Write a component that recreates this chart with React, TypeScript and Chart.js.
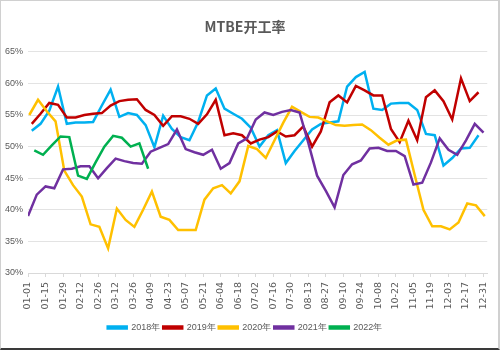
import React, { useEffect, useRef } from 'react';
import { Chart, registerables } from 'chart.js';

Chart.register(...registerables);

const chartTitle = 'MTBE开工率';
const seriesNames = ['2018年', '2019年', '2020年', '2021年', '2022年'];
const seriesColors = ['#00B0F0', '#C00000', '#FFC000', '#7030A0', '#00B050'];
// date (MM-DD) of the first weekly reading of each year
const firstReportDates = ['01-04', '01-04', '01-02', '01-01', '01-06'];
const tickLabels = [
  '01-01', '01-15', '01-29', '02-12', '02-26', '03-12', '03-26', '04-09', '04-23',
  '05-07', '05-21', '06-04', '06-18', '07-02', '07-16', '07-30', '08-13', '08-27',
  '09-10', '09-24', '10-08', '10-22', '11-05', '11-19', '12-03', '12-17', '12-31',
];

const rate2018 = [
  52.5, 53.6, 55.7, 59.5, 53.6, 53.8, 53.8, 53.9, 56.5, 59.0,
  54.7, 55.3, 55.0, 53.4, 49.9, 54.9, 52.8, 51.5, 51.0, 53.9,
  58.1, 59.2, 56.0, 55.2, 54.4, 53.0, 50.0, 51.8, 52.6, 47.4,
  49.3, 51.0, 52.7, 53.6, 53.8, 54.0, 59.5, 61.0, 61.8, 56.0,
  55.8, 56.8, 56.9, 56.9, 55.8, 52.0, 51.8, 47.0, 48.2, 49.7,
  49.8, 51.8,
];
const rate2019 = [
  53.6, 55.2, 56.9, 56.6, 54.6, 54.6, 55.0, 55.2, 55.3, 56.5,
  57.2, 57.4, 57.5, 55.8, 55.0, 53.3, 54.8, 54.8, 54.4, 53.6,
  55.1, 57.4, 51.8, 52.1, 51.8, 50.5, 51.1, 51.5, 52.4, 51.6,
  51.8, 53.2, 50.0, 52.4, 57.0, 58.1, 57.0, 59.6, 58.9, 58.1,
  58.1, 52.8, 50.7, 54.1, 51.0, 57.8, 58.9, 57.2, 54.3, 60.8,
  57.2, 58.6,
];
const rate2020 = [
  55.0, 57.4, 55.6, 54.0, 46.2, 43.9, 42.1, 37.7, 37.3, 33.9,
  40.2, 38.4, 37.3, 40.0, 42.9, 38.9, 38.4, 36.8, 36.8, 36.8,
  41.6, 43.4, 43.9, 42.6, 44.5, 50.1, 49.6, 48.2, 51.0, 53.8,
  56.3, 55.5, 54.7, 54.6, 54.0, 53.4, 53.3, 53.4, 53.5, 52.6,
  51.4, 50.3, 51.0, 51.1, 45.5, 40.0, 37.4, 37.4, 36.9, 38.0,
  41.0, 40.7, 39.0,
];
const rate2021 = [
  39.0, 42.4, 43.7, 43.4, 46.4, 46.5, 46.9, 46.9, 45.0, 46.6,
  48.1, 47.7, 47.4, 47.3, 49.2, 49.8, 50.4, 52.7, 49.6, 49.1,
  48.7, 49.5, 46.5, 47.4, 50.5, 51.3, 54.3, 55.4, 55.0, 55.5,
  55.8, 55.4, 50.6, 45.4, 43.0, 40.4, 45.5, 47.2, 47.8, 49.7,
  49.8, 49.3, 49.3, 48.5, 44.0, 44.3, 47.5, 51.3, 49.5, 48.7,
  51.0, 53.6, 52.2,
];
const rate2022 = [
  49.4, 48.7, 50.2, 51.6, 51.5, 45.4, 44.9, 47.5, 50.0, 51.7,
  51.4, 50.0, 50.5, 46.5,
];
const seriesValues = [rate2018, rate2019, rate2020, rate2021, rate2022];

const monthDays = [31, 28, 31, 30, 31, 30, 31, 31, 30, 31, 30, 31];
function dayOfYear(mmdd: string): number {
  const [m, d] = mmdd.split('-').map(Number);
  let n = 0;
  for (let i = 0; i < m - 1; i++) n += monthDays[i];
  return n + d - 1;
}
const tickDays = tickLabels.map(dayOfYear);

export default function App() {
  const canvasRef = useRef<HTMLCanvasElement | null>(null);

  useEffect(() => {
    document.body.style.margin = '0';
    const canvas = canvasRef.current;
    if (!canvas) return;
    Chart.defaults.font.family = "'Liberation Sans Narrow', 'Liberation Sans', sans-serif";

    const datasets = seriesValues.map((vals, i) => {
      const start = dayOfYear(firstReportDates[i]);
      return {
        label: seriesNames[i],
        data: vals.map((v, k) => ({ x: start + 7 * k, y: v })),
        borderColor: seriesColors[i],
        backgroundColor: seriesColors[i],
        borderWidth: 2.5,
        pointRadius: 0,
        pointHoverRadius: 0,
        tension: 0,
        fill: false,
        order: seriesValues.length - 1 - i,
      };
    });

    const chart = new Chart(canvas, {
      type: 'line',
      data: { datasets },
      options: {
        animation: false,
        responsive: false,
        maintainAspectRatio: false,
        layout: { padding: { left: 0, right: 10, top: 0, bottom: 8 } },
        plugins: {
          title: {
            display: true,
            text: chartTitle,
            color: '#595959',
            font: { size: 14, weight: 'bold', family: "'Noto Sans CJK SC', sans-serif" },
            padding: { top: 18, bottom: 17 },
          },
          legend: {
            position: 'bottom',
            labels: {
              boxWidth: 19,
              boxHeight: 2,
              padding: 3,
              color: '#595959',
              font: { size: 9 },
              sort: (a: any, b: any) => a.datasetIndex - b.datasetIndex,
            },
          },
          tooltip: { enabled: false },
        },
        scales: {
          x: {
            type: 'linear',
            min: 0,
            max: 367,
            afterBuildTicks: (axis: any) => {
              axis.ticks = tickDays.map((value) => ({ value }));
            },
            afterFit: (axis: any) => {
              axis.height = 47;
            },
            ticks: {
              autoSkip: false,
              minRotation: 90,
              maxRotation: 90,
              padding: 5,
              color: '#595959',
              font: { size: 9.5, family: "'DejaVu Sans', sans-serif" },
              callback: (_v: any, i: number) => tickLabels[i],
            },
            grid: {
              display: true,
              drawOnChartArea: false,
              drawTicks: true,
              tickLength: 4,
              color: '#d9d9d9',
            },
            border: { display: true, color: '#d9d9d9' },
          },
          y: {
            min: 30,
            max: 65,
            ticks: {
              stepSize: 5,
              padding: 5,
              color: '#595959',
              font: { size: 9 },
              callback: (v: any) => v + '%',
            },
            grid: { color: '#e3e3e3', drawTicks: false },
            border: { display: false },
          },
        },
      },
    });
    return () => chart.destroy();
  }, []);

  return (
    <div style={{ position: 'relative', width: 500, height: 350, background: '#fff' }}>
      <canvas ref={canvasRef} width={500} height={350} style={{ display: 'block' }} />
      <div
        style={{
          position: 'absolute',
          left: 0,
          top: 0,
          width: 500,
          height: 350,
          boxSizing: 'border-box',
          borderTop: '1px solid #d0d0d0',
          borderLeft: '1px solid #d0d0d0',
          borderRight: '2px solid #d0d0d0',
          borderBottom: '2px solid #3a3a3a',
          pointerEvents: 'none',
        }}
      />
    </div>
  );
}
